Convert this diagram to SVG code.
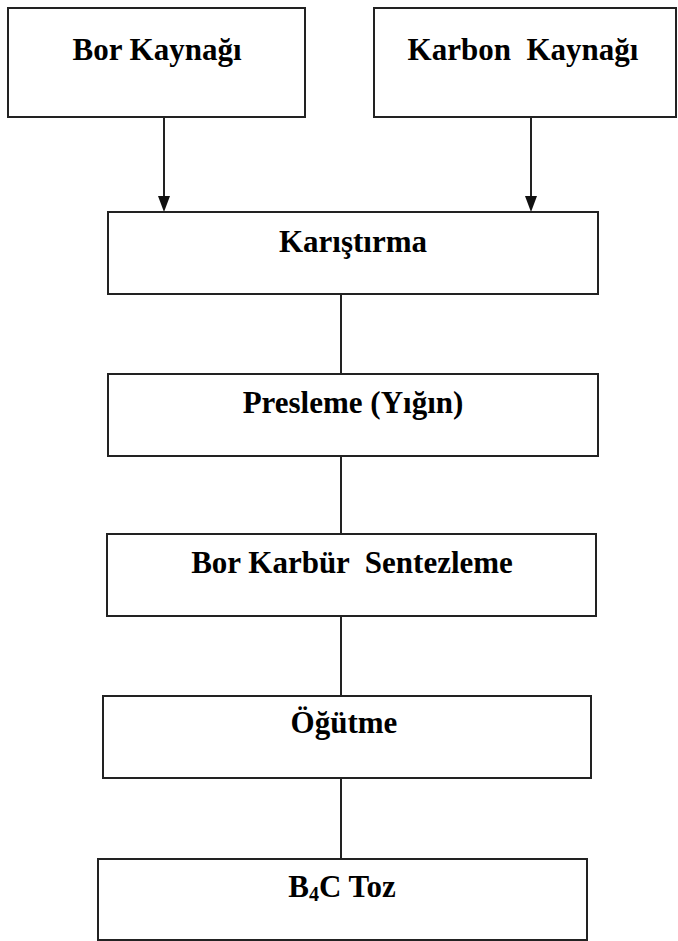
<svg xmlns="http://www.w3.org/2000/svg" width="678" height="941" viewBox="0 0 678 941">
  <style>
    .box { fill: #ffffff; stroke: #222222; stroke-width: 2; }
    .lbl { font-family: "Liberation Serif", "Times New Roman", serif; font-weight: bold; font-size: 31px; fill: #000000; text-anchor: middle; }
    .conn { stroke: #222222; stroke-width: 2; fill: none; }
    .head { fill: #111111; }
  </style>
  <rect width="678" height="941" fill="#ffffff"/>

  <g id="connectors">
    <line class="conn" x1="164" y1="117" x2="164" y2="198"/>
    <polygon class="head" points="158,196 170,196 164,212"/>
    <line class="conn" x1="531" y1="117" x2="531" y2="198"/>
    <polygon class="head" points="525,196 537,196 531,212"/>
    <line class="conn" x1="341" y1="294" x2="341" y2="374"/>
    <line class="conn" x1="341" y1="456" x2="341" y2="534"/>
    <line class="conn" x1="341" y1="616" x2="341" y2="696"/>
    <line class="conn" x1="341" y1="778" x2="341" y2="859"/>
  </g>

  <g id="bor-kaynagi">
    <rect class="box" x="8" y="8" width="297" height="109"/>
    <text class="lbl" x="157" y="60">Bor Kaynağı</text>
  </g>

  <g id="karbon-kaynagi">
    <rect class="box" x="374" y="8" width="302" height="109"/>
    <text class="lbl" x="523" y="60" xml:space="preserve">Karbon  Kaynağı</text>
  </g>

  <g id="karistirma">
    <rect class="box" x="108" y="212" width="490" height="82"/>
    <text class="lbl" x="353" y="252">Karıştırma</text>
  </g>

  <g id="presleme">
    <rect class="box" x="108" y="374" width="490" height="82"/>
    <text class="lbl" x="353" y="413">Presleme (Yığın)</text>
  </g>

  <g id="sentezleme">
    <rect class="box" x="107" y="534" width="489" height="82"/>
    <text class="lbl" x="352" y="573" xml:space="preserve">Bor Karbür  Sentezleme</text>
  </g>

  <g id="ogutme">
    <rect class="box" x="103" y="696" width="488" height="82"/>
    <text class="lbl" x="344" y="733">Öğütme</text>
  </g>

  <g id="b4c-toz">
    <rect class="box" x="98" y="859" width="489" height="81"/>
    <text class="lbl" x="342" y="897">B<tspan font-size="20" dy="4">4</tspan><tspan dy="-4">C Toz</tspan></text>
  </g>
</svg>
